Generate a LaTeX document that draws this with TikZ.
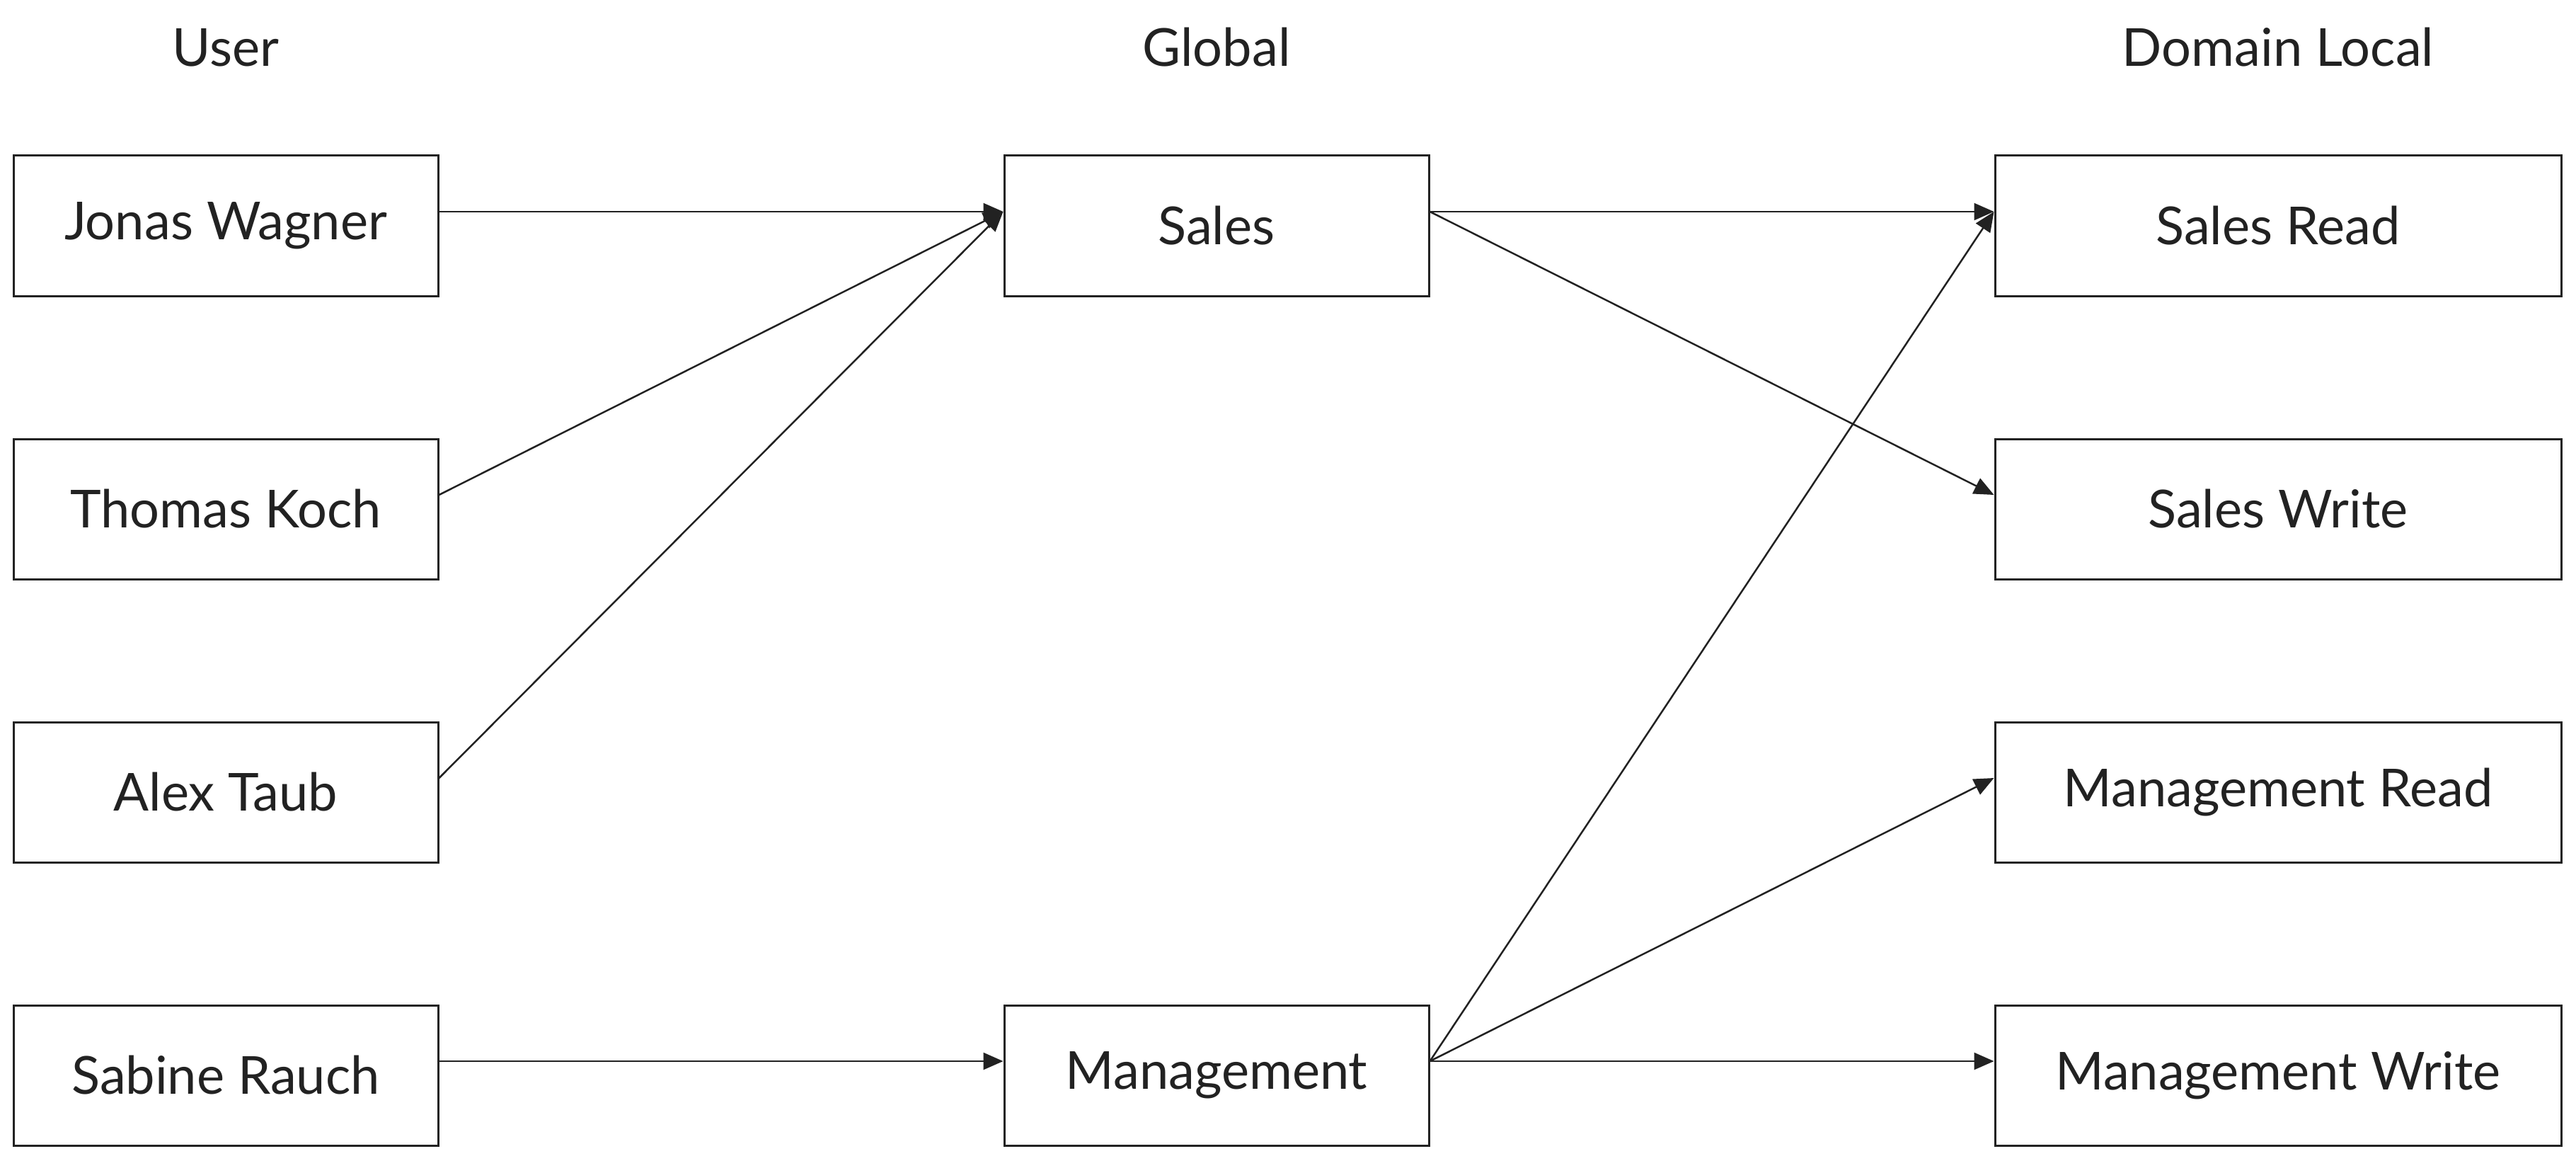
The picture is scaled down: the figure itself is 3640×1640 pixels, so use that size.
\documentclass[tikz,border=0pt]{standalone}
\usepackage{fontspec}
\setmainfont{Lato}
\usetikzlibrary{arrows.meta,calc}
\definecolor{ink}{HTML}{222222}
\tikzset{
  box/.style={draw=ink, line width=3pt, minimum height=198pt, inner sep=0pt, text=ink, font=\fontsize{74}{88}\selectfont},
  narrowbox/.style={box, minimum width=600pt},
  widebox/.style={box, minimum width=800pt},
  title/.style={text=ink, font=\fontsize{74}{88}\selectfont, inner sep=0pt},
  conn/.style={draw=ink, line width=2.5pt, -{Triangle[length=28pt,width=24pt]}},
}
\begin{document}
\begin{tikzpicture}[x=1pt,y=-1pt]
\useasboundingbox (0,0) rectangle (3640,1640);
\node[title] (tu) at (319,67) {User};
\node[title] (tg) at (1719,67) {Global};
\node[title] (td) at (3219,67) {Domain Local};

\node[narrowbox] (jonas) at (319,319) {Jonas Wagner};
\node[narrowbox] (thomas) at (319,719) {Thomas Koch};
\node[narrowbox] (alex) at (319,1119) {Alex Taub};
\node[narrowbox] (sabine) at (319,1519) {Sabine Rauch};

\node[narrowbox] (sales) at (1719,319) {Sales};
\node[narrowbox] (mgmt) at (1719,1519) {Management};

\node[widebox] (sr) at (3219,319) {Sales Read};
\node[widebox] (sw) at (3219,719) {Sales Write};
\node[widebox] (mr) at (3219,1119) {Management Read};
\node[widebox] (mw) at (3219,1519) {Management Write};

\foreach \n in {jonas,thomas,alex,sabine,sales,mgmt,sr,sw,mr,mw}{
  \coordinate (\n-o) at ([yshift=20pt]\n.east);
  \coordinate (\n-i) at ([yshift=20pt]\n.west);
}
\draw[conn] (jonas-o) -- (sales-i);
\draw[conn] (thomas-o) -- (sales-i);
\draw[conn] (alex-o) -- (sales-i);
\draw[conn] (sabine-o) -- (mgmt-i);
\draw[conn] (sales-o) -- (sr-i);
\draw[conn] (sales-o) -- (sw-i);
\draw[conn] (mgmt-o) -- (sr-i);
\draw[conn] (mgmt-o) -- (mr-i);
\draw[conn] (mgmt-o) -- (mw-i);
\end{tikzpicture}
\end{document}
